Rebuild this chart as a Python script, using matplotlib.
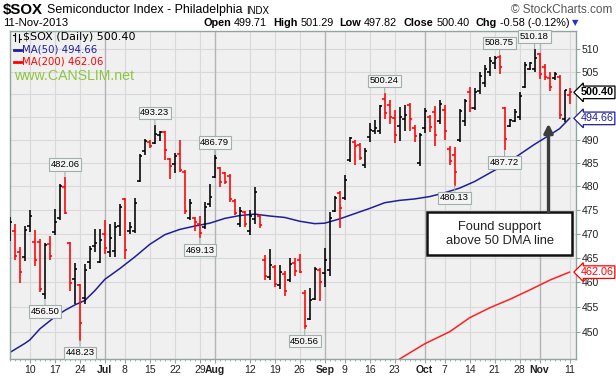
import matplotlib
matplotlib.use("Agg")
import matplotlib.pyplot as plt
from matplotlib.lines import Line2D
from matplotlib.patches import Rectangle
from matplotlib.ticker import FixedLocator, FixedFormatter, NullLocator
import numpy as np
import pandas as pd

W, H = 616, 378

# trading days on the chart: Jun 4 .. Nov 11 2013 (closed Jul 4 and Labor Day)
days = pd.bdate_range("2013-06-04", "2013-11-11")
days = days[~days.isin(pd.to_datetime(["2013-07-04", "2013-09-02"]))]

opens = [470.0, 470.6, 466.2, 465.1, 471.7, 468.3, 468.2, 457.5, 467.8, 470.4,
         473.2, 479.8, 468.1, 460.7, 459.4, 456.8, 464.2, 467.5, 464.2, 470.0,
         466.2, 466.5, 471.7, 477.3, 470.5, 470.6, 481.1, 487.6, 489.6, 489.2,
         491.0, 491.6, 485.8, 484.7, 486.8, 483.0, 473.2, 473.2, 472.0, 471.3,
         476.2, 482.0, 483.8, 482.8, 482.2, 476.8, 472.0, 474.6, 470.5, 473.0,
         473.8, 464.6, 461.0, 463.2, 459.4, 461.6, 460.5, 463.9, 464.6, 457.9,
         452.6, 456.6, 462.5, 461.9, 462.5, 474.8, 478.6, 477.4, 485.6, 489.4,
         488.8, 484.5, 490.6, 492.0, 492.0, 499.0, 497.5, 494.8, 493.0, 494.6,
         497.6, 492.6, 485.0, 492.5, 495.0, 496.0, 494.0, 496.5, 488.0, 486.6,
         490.0, 494.0, 500.5, 497.0, 500.8, 502.5, 505.0, 507.0, 508.3, 497.0,
         493.0, 494.0, 495.0, 501.5, 505.5, 505.5, 509.0, 506.0, 503.5, 503.5,
         503.8, 494.5, 499.71]
highs = [473.5, 472.0, 467.3, 471.7, 474.9, 470.7, 468.8, 468.0, 469.5, 475.2,
         480.5, 482.06, 468.3, 464.0, 459.7, 463.8, 467.4, 471.0, 471.0, 472.8,
         472.1, 472.4, 476.3, 477.6, 472.4, 477.6, 486.8, 490.2, 490.0, 493.23,
         491.8, 491.9, 486.1, 487.1, 490.0, 483.5, 477.3, 473.5, 473.8, 476.6,
         480.5, 486.79, 484.1, 483.0, 482.7, 477.2, 475.6, 474.8, 474.9, 479.8,
         474.2, 465.5, 466.8, 463.6, 463.6, 462.2, 464.9, 464.9, 465.8, 458.4,
         458.8, 463.2, 462.9, 467.0, 474.5, 478.0, 479.0, 482.5, 490.6, 490.0,
         489.2, 488.3, 493.6, 494.4, 497.5, 500.24, 498.7, 496.5, 497.2, 497.5,
         498.0, 493.3, 491.5, 497.0, 495.3, 497.4, 498.8, 497.5, 488.6, 488.4,
         496.8, 499.0, 501.7, 501.3, 505.0, 506.5, 508.2, 508.6, 508.75, 497.2,
         494.6, 496.8, 500.4, 507.1, 507.1, 510.18, 509.3, 506.7, 505.0, 505.0,
         504.2, 501.0, 501.29]
lows = [468.5, 464.5, 459.9, 464.3, 470.4, 463.3, 458.0, 456.50, 464.6, 469.7,
        472.8, 474.2, 458.2, 455.5, 448.23, 455.5, 462.8, 466.3, 463.9, 465.8,
        465.2, 465.2, 469.5, 464.7, 469.9, 470.2, 480.9, 486.6, 488.3, 489.0,
        489.7, 485.6, 481.6, 482.8, 483.0, 474.2, 472.8, 470.6, 469.13, 471.0,
        475.6, 481.7, 479.8, 480.5, 476.7, 473.9, 471.4, 471.3, 469.7, 472.1,
        471.1, 460.4, 460.4, 459.0, 458.7, 457.1, 460.1, 461.2, 461.8, 450.56,
        452.3, 456.4, 456.1, 459.0, 461.2, 474.6, 471.1, 477.0, 485.2, 484.5,
        485.6, 483.8, 489.5, 491.3, 491.3, 494.6, 493.4, 489.3, 489.8, 492.0,
        492.0, 489.6, 484.4, 491.5, 491.6, 488.6, 493.4, 490.0, 484.6, 480.13,
        489.6, 493.0, 496.1, 496.4, 500.0, 501.5, 504.0, 505.5, 504.5, 487.72,
        492.8, 493.8, 494.2, 501.3, 505.3, 505.0, 503.4, 503.1, 500.8, 503.1,
        494.5, 493.8, 497.82]
closes = [472.4, 465.3, 462.0, 470.7, 473.7, 464.6, 458.7, 467.6, 465.3, 472.5,
          480.0, 474.4, 459.8, 462.6, 451.7, 462.5, 466.8, 468.0, 468.6, 467.0,
          469.2, 471.5, 475.5, 466.6, 471.5, 476.5, 486.4, 489.8, 488.7, 491.3,
          491.6, 487.7, 484.3, 486.5, 483.4, 474.8, 476.5, 472.5, 470.2, 475.6,
          477.8, 486.0, 481.0, 480.8, 477.3, 474.3, 474.8, 472.0, 473.8, 478.8,
          471.8, 461.2, 463.6, 459.6, 462.0, 458.2, 463.8, 462.2, 462.0, 451.2,
          456.4, 462.8, 460.0, 464.6, 473.3, 477.6, 475.3, 481.4, 490.3, 488.6,
          486.0, 487.6, 492.2, 492.6, 497.3, 495.9, 495.0, 491.0, 495.0, 495.3,
          494.6, 490.8, 491.0, 496.2, 492.8, 491.0, 497.8, 491.8, 485.5, 483.0,
          496.2, 498.4, 497.0, 500.5, 504.0, 505.5, 507.5, 508.0, 506.0, 490.2,
          494.4, 496.0, 499.5, 506.5, 506.9, 508.0, 504.5, 503.8, 501.5, 504.5,
          495.5, 500.98, 500.40]

# moving averages at some bars (bar number from the first bar)
ma50_bar = [0, 3, 4, 6, 9, 11, 13, 15, 17, 19, 22, 25, 28, 31, 34, 37, 40, 43, 46, 49,
            52, 55, 58, 61, 63, 66, 69, 72, 75, 78, 81, 84, 87, 90, 93, 96, 99, 102,
            105, 108, 110, 112]
ma50_vals = [445.9, 447.7, 448.4, 450.6, 453.0, 454.3, 455.4, 456.3, 458.3, 460.6,
             462.8, 465.2, 467.8, 469.8, 470.9, 471.6, 472.2, 473.2, 473.8, 474.1,
             473.7, 473.4, 472.6, 472.1, 472.2, 473.1, 474.2, 475.3, 476.5, 477.0,
             477.3, 477.8, 478.6, 479.6, 481.0, 482.8, 484.6, 486.8, 489.0, 491.0,
             492.4, 494.66]
ma200_bar = [77, 79, 83, 88, 92, 96, 100, 104, 108, 112]
ma200_vals = [444.0, 445.2, 447.6, 450.0, 452.8, 454.8, 456.5, 458.4, 460.4, 462.06]

tick_dates = ["2013-06-10", "2013-06-17", "2013-06-24", "2013-07-01", "2013-07-08",
              "2013-07-15", "2013-07-22", "2013-07-29", "2013-08-01", "2013-08-12",
              "2013-08-19", "2013-08-26", "2013-09-03", "2013-09-09", "2013-09-16",
              "2013-09-23", "2013-10-01", "2013-10-07", "2013-10-14", "2013-10-21",
              "2013-10-28", "2013-11-01", "2013-11-11"]
tick_labels = ["10", "17", "24", "Jul", "8", "15", "22", "29", "Aug", "12", "19", "26",
               "Sep", "9", "16", "23", "Oct", "7", "14", "21", "28", "Nov", "11"]

price_ticks = [450, 455, 460, 465, 470, 475, 480, 485, 490, 495, 500, 505, 510]
price_labels = ["450", "455", "460", "465", "470", "475", "480", "485", "490", "", "", "505", "510"]

# swing highs / lows that carry a price label
high_marks = ["2013-06-19", "2013-07-16", "2013-08-01", "2013-09-19", "2013-10-22", "2013-10-31"]
low_marks = ["2013-06-13", "2013-06-24", "2013-07-29", "2013-08-27", "2013-10-09", "2013-10-23"]

last_close = 500.40
ma50_last = 494.66
ma200_last = 462.06


def fx(px):
    return px / W


def fy(py):
    return 1 - py / H


def bar_of(d):
    return days.get_loc(pd.Timestamp(d))


x = np.arange(len(days))
o = np.array(opens)
h = np.array(highs)
l = np.array(lows)
c = np.array(closes)
prev = np.concatenate([[o[0]], c[:-1]])
colors = np.where(c < prev, "#ff0000", "#000000")

fig = plt.figure(figsize=(W / 100, H / 100), dpi=100)
ax = fig.add_axes([fx(10), fy(359), fx(576) - fx(10), fy(31) - fy(359)])
ax.set_facecolor("#f0f0f0")

ax.set_yscale("log")
ax.set_ylim(444.6, 514.2)
ax.set_xlim(0.14, 113.3)

# grid
for p in price_ticks:
    ax.axhline(p, color="#d9d9d9", lw=0.8, zorder=0)
tick_pos = [bar_of(d) for d in tick_dates]
for pos, lab in zip(tick_pos, tick_labels):
    month = lab.isalpha()
    ax.axvline(pos, color="#b4b4b4" if month else "#d9d9d9", lw=1.0 if month else 0.8, zorder=0)

# OHLC bars
ax.vlines(x, l, h, colors=colors, lw=1.15, zorder=3)
ax.hlines(o, x - 0.5, x, colors=colors, lw=1.15, zorder=3)
ax.hlines(c, x, x + 0.5, colors=colors, lw=1.15, zorder=3)

# moving averages
ax.plot(ma50_bar, ma50_vals, color="#1f1f9a", lw=1.1, zorder=2)
ax.plot(ma200_bar, ma200_vals, color="#ff2020", lw=1.1, zorder=2)

# price callouts
box = dict(boxstyle="square,pad=0.18", fc="#f4f4f4", ec="#9fb0ae", lw=0.8)
for d in high_marks:
    i = bar_of(d)
    ax.annotate(f"{h[i]:.2f}", xy=(i, h[i]), xytext=(0, 5.5), textcoords="offset points",
                ha="center", va="bottom", fontsize=6.8, family="Liberation Sans", bbox=box,
                arrowprops=dict(arrowstyle="-", color="#9fb0ae", lw=0.8, shrinkA=0, shrinkB=0),
                zorder=5)
for d in low_marks:
    i = bar_of(d)
    ax.annotate(f"{l[i]:.2f}", xy=(i, l[i]), xytext=(0, -5.5), textcoords="offset points",
                ha="center", va="top", fontsize=6.8, family="Liberation Sans", bbox=box,
                arrowprops=dict(arrowstyle="-", color="#9fb0ae", lw=0.8, shrinkA=0, shrinkB=0),
                zorder=5)

# axes styling
for s in ax.spines.values():
    s.set_color("#8fa5a2")
    s.set_linewidth(1.0)
ax.yaxis.tick_right()
ax.yaxis.set_major_locator(FixedLocator(price_ticks))
ax.yaxis.set_major_formatter(FixedFormatter(price_labels))
ax.yaxis.set_minor_locator(NullLocator())
ax.tick_params(axis="y", which="major", direction="out", length=3, width=0.8,
               color="#8fa5a2", labelsize=7.5, pad=1, labelcolor="#222222")
ax.set_xticks(tick_pos)
ax.set_xticklabels(tick_labels)
ax.set_xticks(x, minor=True)
ax.tick_params(axis="x", which="major", direction="out", length=3, width=0.8,
               color="#8fa5a2", labelsize=7.5, pad=1.5, labelcolor="#222222")
ax.tick_params(axis="x", which="minor", direction="out", length=1.5, width=0.6, color="#8fa5a2")
for t in ax.get_xticklabels() + ax.get_yticklabels():
    t.set_family("Liberation Sans")
for t, lab in zip(ax.get_xticklabels(), tick_labels):
    if lab.isalpha():
        t.set_fontweight("bold")

# value tags on the right axis
tr = ax.get_yaxis_transform()
for val, fg, bold in [(last_close, "#000000", True), (ma50_last, "#1f1f9a", False),
                      (ma200_last, "#ff0000", False)]:
    ax.text(1.008, val, f"{val:.2f}", transform=tr, ha="left", va="center",
            fontsize=7.8, family="Liberation Sans", fontweight="bold" if bold else "normal",
            color=fg, bbox=dict(boxstyle="larrow,pad=0.12", fc="white", ec=fg, lw=0.9),
            zorder=6, clip_on=False)

# annotation box with arrow
ax.add_patch(Rectangle((0.737, 0.316), 0.256, 0.131, transform=ax.transAxes,
                       fc="white", ec="#111111", lw=1.8, zorder=6))
ax.text(0.865, 0.381, "Found support\nabove 50 DMA line", transform=ax.transAxes,
        ha="center", va="center", fontsize=9.3, family="Liberation Sans",
        color="#222222", linespacing=1.25, zorder=7)
ax.annotate("", xy=(107.8, 493.5), xycoords="data",
            xytext=(107.8, 0.447), textcoords=ax.get_xaxis_transform(),
            arrowprops=dict(arrowstyle="-|>", lw=2.4, color="#3c3c3c",
                            mutation_scale=13, shrinkA=0, shrinkB=0), zorder=6)

renderer = fig.canvas.get_renderer()

# header
fig.text(fx(3), fy(10), "$SOX", fontsize=10.8, fontweight="bold", family="Liberation Sans", va="center")
name = fig.text(fx(47), fy(10.5), "Semiconductor Index - Philadelphia", fontsize=8.9,
                family="Liberation Sans", va="center")
nb = name.get_window_extent(renderer)
fig.text(nb.x1 / W + fx(4), fy(11), "INDX", fontsize=7, family="Liberation Sans", va="center")
fig.text(fx(612), fy(10), "\u00a9 StockCharts.com", fontsize=8.5, family="Liberation Sans",
         color="#555555", ha="right", va="center")
fig.text(fx(3), fy(22.5), "11-Nov-2013", fontsize=8.2, family="Liberation Sans", va="center")

# quote line, right aligned so it ends next to the blue arrow
quote = [("Open", True), ("499.71", False), ("High", True), ("501.29", False),
         ("Low", True), ("497.82", False), ("Close", True), ("500.40", False),
         ("Chg", True), ("-0.58 (-0.12%)", False)]
pieces = []
widths = []
for txt, bold in quote:
    t = fig.text(0, fy(22.5), txt, fontsize=7.8, family="Liberation Sans",
                 fontweight="bold" if bold else "normal", va="center")
    pieces.append(t)
    widths.append(t.get_window_extent(renderer).width)
gaps = [3 if bold else 6 for _, bold in quote]
total = sum(widths) + sum(gaps[:-1])
xpos = 569 - total
for t, w_, g in zip(pieces, widths, gaps):
    t.set_x(fx(xpos))
    xpos += w_ + g
fig.text(fx(572), fy(22.5), "\u25bc", fontsize=6, color="#2233cc", va="center")

# legend block
fig.add_artist(Line2D([fx(15), fx(15)], [fy(33), fy(41)], color="black", lw=0.8))
fig.add_artist(Line2D([fx(13), fx(15)], [fy(35), fy(35)], color="black", lw=0.8))
fig.add_artist(Line2D([fx(19), fx(19)], [fy(34), fy(42)], color="black", lw=0.8))
fig.add_artist(Line2D([fx(19), fx(21)], [fy(39), fy(39)], color="black", lw=0.8))
fig.text(fx(23), fy(37.5), "$SOX (Daily) 500.40", fontsize=8, va="center")
fig.add_artist(Line2D([fx(14), fx(21)], [fy(49.5), fy(49.5)], color="#1f1f9a", lw=2))
fig.text(fx(22), fy(49.5), "MA(50) 494.66", fontsize=7.3, color="#1f1f9a", va="center")
fig.add_artist(Line2D([fx(14), fx(21)], [fy(61.5), fy(61.5)], color="#ff0000", lw=2))
fig.text(fx(22), fy(61.5), "MA(200) 462.06", fontsize=7.3, color="#ff0000", va="center")
fig.text(fx(14), fy(75.5), "www.CANSLIM.net", fontsize=10.2, family="Liberation Sans",
         color="#8cc63f", va="center")

fig.savefig("out.png", dpi=100)
